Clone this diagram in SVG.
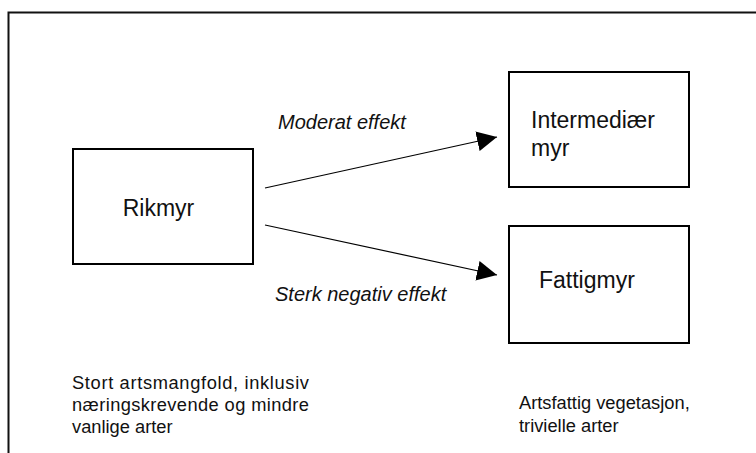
<svg xmlns="http://www.w3.org/2000/svg" width="756" height="453" viewBox="0 0 756 453">
  <style>
    .box { fill: #ffffff; stroke: #000000; stroke-width: 2; }
    .frame { fill: none; stroke: #111111; stroke-width: 2; }
    .edge { fill: none; stroke: #000000; stroke-width: 1.2; }
    .node-label { font-family: "Liberation Sans", Arial, sans-serif; font-size: 23px; fill: #111111; }
    .edge-label { font-family: "Liberation Sans", Arial, sans-serif; font-size: 20px; font-style: italic; fill: #111111; }
    .note { font-family: "Liberation Sans", Arial, sans-serif; font-size: 18.3px; fill: #111111; }
  </style>
  <defs>
    <marker id="arrowhead" viewBox="0 0 20 20" refX="20" refY="10" markerWidth="20" markerHeight="20" markerUnits="userSpaceOnUse" orient="auto">
      <path d="M0,0 L20,10 L0,20 Z" fill="#000000"/>
    </marker>
  </defs>

  <rect width="756" height="453" fill="#ffffff"/>

  <!-- page frame -->
  <path class="frame" d="M8.5,460 V12.5 H760"/>

  <g id="connectors">
    <line class="edge" x1="265" y1="188" x2="497" y2="137" marker-end="url(#arrowhead)"/>
    <line class="edge" x1="265" y1="225" x2="497" y2="275" marker-end="url(#arrowhead)"/>
    <text class="edge-label" x="278" y="129">Moderat effekt</text>
    <text class="edge-label" x="275" y="301">Sterk negativ effekt</text>
  </g>

  <g id="rikmyr">
    <rect class="box" x="73" y="149" width="180" height="115"/>
    <text class="node-label" x="122.7" y="216">Rikmyr</text>
  </g>

  <g id="intermediaer-myr">
    <rect class="box" x="509" y="72" width="180" height="115"/>
    <text class="node-label" x="531" y="128">Intermediær</text>
    <text class="node-label" x="531" y="156">myr</text>
  </g>

  <g id="fattigmyr">
    <rect class="box" x="509" y="226" width="180" height="117"/>
    <text class="node-label" x="539" y="288">Fattigmyr</text>
  </g>

  <g id="note-rikmyr">
    <text class="note" x="72" y="389" textLength="237" lengthAdjust="spacing">Stort artsmangfold, inklusiv</text>
    <text class="note" x="72" y="411" textLength="237" lengthAdjust="spacing">næringskrevende og mindre</text>
    <text class="note" x="72" y="432.5">vanlige arter</text>
  </g>

  <g id="note-fattigmyr">
    <text class="note" x="519" y="409">Artsfattig vegetasjon,</text>
    <text class="note" x="519" y="431.5">trivielle arter</text>
  </g>
</svg>
